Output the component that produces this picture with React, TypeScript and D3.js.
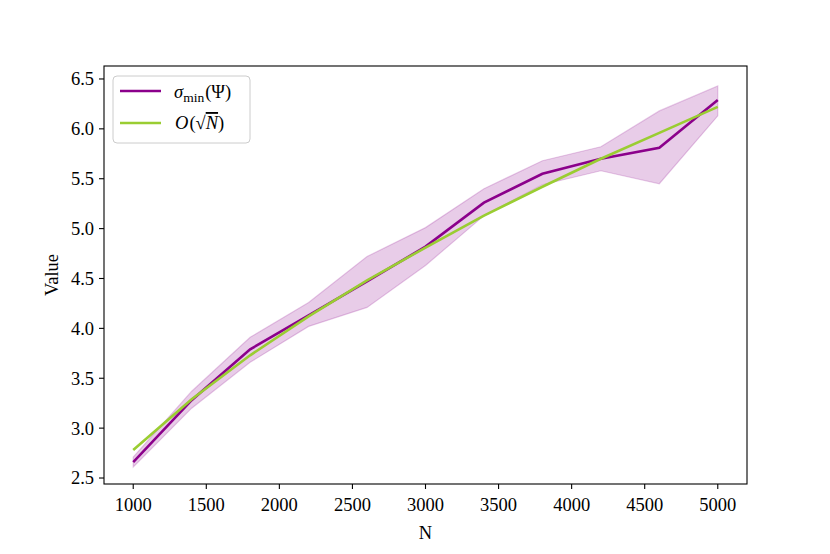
import * as d3 from "d3";

const nValues = [1000, 1400, 1800, 2200, 2600, 3000, 3400, 3800, 4200, 4600, 5000];
const sigmaMean = [2.66, 3.28, 3.79, 4.13, 4.47, 4.82, 5.26, 5.55, 5.70, 5.81, 6.29];
const sigmaUpper = [2.71, 3.37, 3.91, 4.26, 4.72, 5.01, 5.40, 5.68, 5.82, 6.18, 6.43];
const sigmaLower = [2.61, 3.20, 3.66, 4.02, 4.21, 4.63, 5.13, 5.44, 5.58, 5.45, 6.13];
const sqrtFit = [2.78, 3.29, 3.73, 4.12, 4.48, 4.81, 5.13, 5.42, 5.70, 5.96, 6.22];

const xTicks = [1000, 1500, 2000, 2500, 3000, 3500, 4000, 4500, 5000];
const yTicks = [2.5, 3.0, 3.5, 4.0, 4.5, 5.0, 5.5, 6.0, 6.5];

const PURPLE = "#8b008b";
const GREEN = "#9acd32";
const FONT = "'Liberation Serif', 'DejaVu Serif', serif";
const FS = 18.5;

export default function App() {
  const width = 830;
  const height = 554;
  const left = 104, right = 747, top = 66, bottom = 484;

  const x = d3.scaleLinear().domain([800, 5200]).range([left, right]);
  const y = d3.scaleLinear().domain([2.44, 6.63]).range([bottom, top]);

  const rows = nValues.map((n, i) => ({
    n, mean: sigmaMean[i], lo: sigmaLower[i], hi: sigmaUpper[i], fit: sqrtFit[i],
  }));

  const area = d3.area<typeof rows[0]>()
    .x(d => x(d.n)).y0(d => y(d.lo)).y1(d => y(d.hi));
  const meanLine = d3.line<typeof rows[0]>().x(d => x(d.n)).y(d => y(d.mean));
  const fitLine = d3.line<typeof rows[0]>().x(d => x(d.n)).y(d => y(d.fit));

  return (
    <svg width={width} height={height} style={{ display: "block", margin: -8 }} fontFamily={FONT}>
      <rect width={width} height={height} fill="white" />
      <path d={area(rows)!} fill={PURPLE} fillOpacity={0.2} stroke={PURPLE} strokeOpacity={0.2} strokeWidth={1.2} />
      <path d={meanLine(rows)!} fill="none" stroke={PURPLE} strokeWidth={2.6} />
      <path d={fitLine(rows)!} fill="none" stroke={GREEN} strokeWidth={2.6} />

      <rect x={left} y={top} width={right - left} height={bottom - top} fill="none" stroke="black" strokeWidth={1.1} />

      {xTicks.map(t => (
        <g key={t} transform={`translate(${x(t)},${bottom})`}>
          <line y2={5} stroke="black" strokeWidth={1.1} />
          <text y={27} textAnchor="middle" fontSize={FS}>{t}</text>
        </g>
      ))}
      {yTicks.map(t => (
        <g key={t} transform={`translate(${left},${y(t)})`}>
          <line x2={-5} stroke="black" strokeWidth={1.1} />
          <text x={-10} dy="0.35em" textAnchor="end" fontSize={FS}>{t.toFixed(1)}</text>
        </g>
      ))}

      <text x={(left + right) / 2} y={539} textAnchor="middle" fontSize={FS}>N</text>
      <text transform={`translate(58,${(top + bottom) / 2}) rotate(-90)`} textAnchor="middle" fontSize={FS}>Value</text>

      <g>
        <rect x={113} y={76} width={137} height={67} rx={4} fill="white" fillOpacity={0.8} stroke="#cccccc" strokeWidth={1} />
        <line x1={120} x2={161} y1={91} y2={91} stroke={PURPLE} strokeWidth={2.6} />
        <line x1={120} x2={161} y1={123} y2={123} stroke={GREEN} strokeWidth={2.6} />
        <text x={174} y={98} fontSize={FS}>
          <tspan fontStyle="italic">σ</tspan>
          <tspan fontSize={13.5} dy={4}>min</tspan>
          <tspan dy={-4} dx={1}>(Ψ)</tspan>
        </text>
        <text x={175} y={129} fontSize={FS}>
          <tspan fontStyle="italic">O</tspan>
          <tspan dx={1}>(√</tspan>
          <tspan fontStyle="italic" textDecoration="overline">N</tspan>
          <tspan>)</tspan>
        </text>
      </g>
    </svg>
  );
}
